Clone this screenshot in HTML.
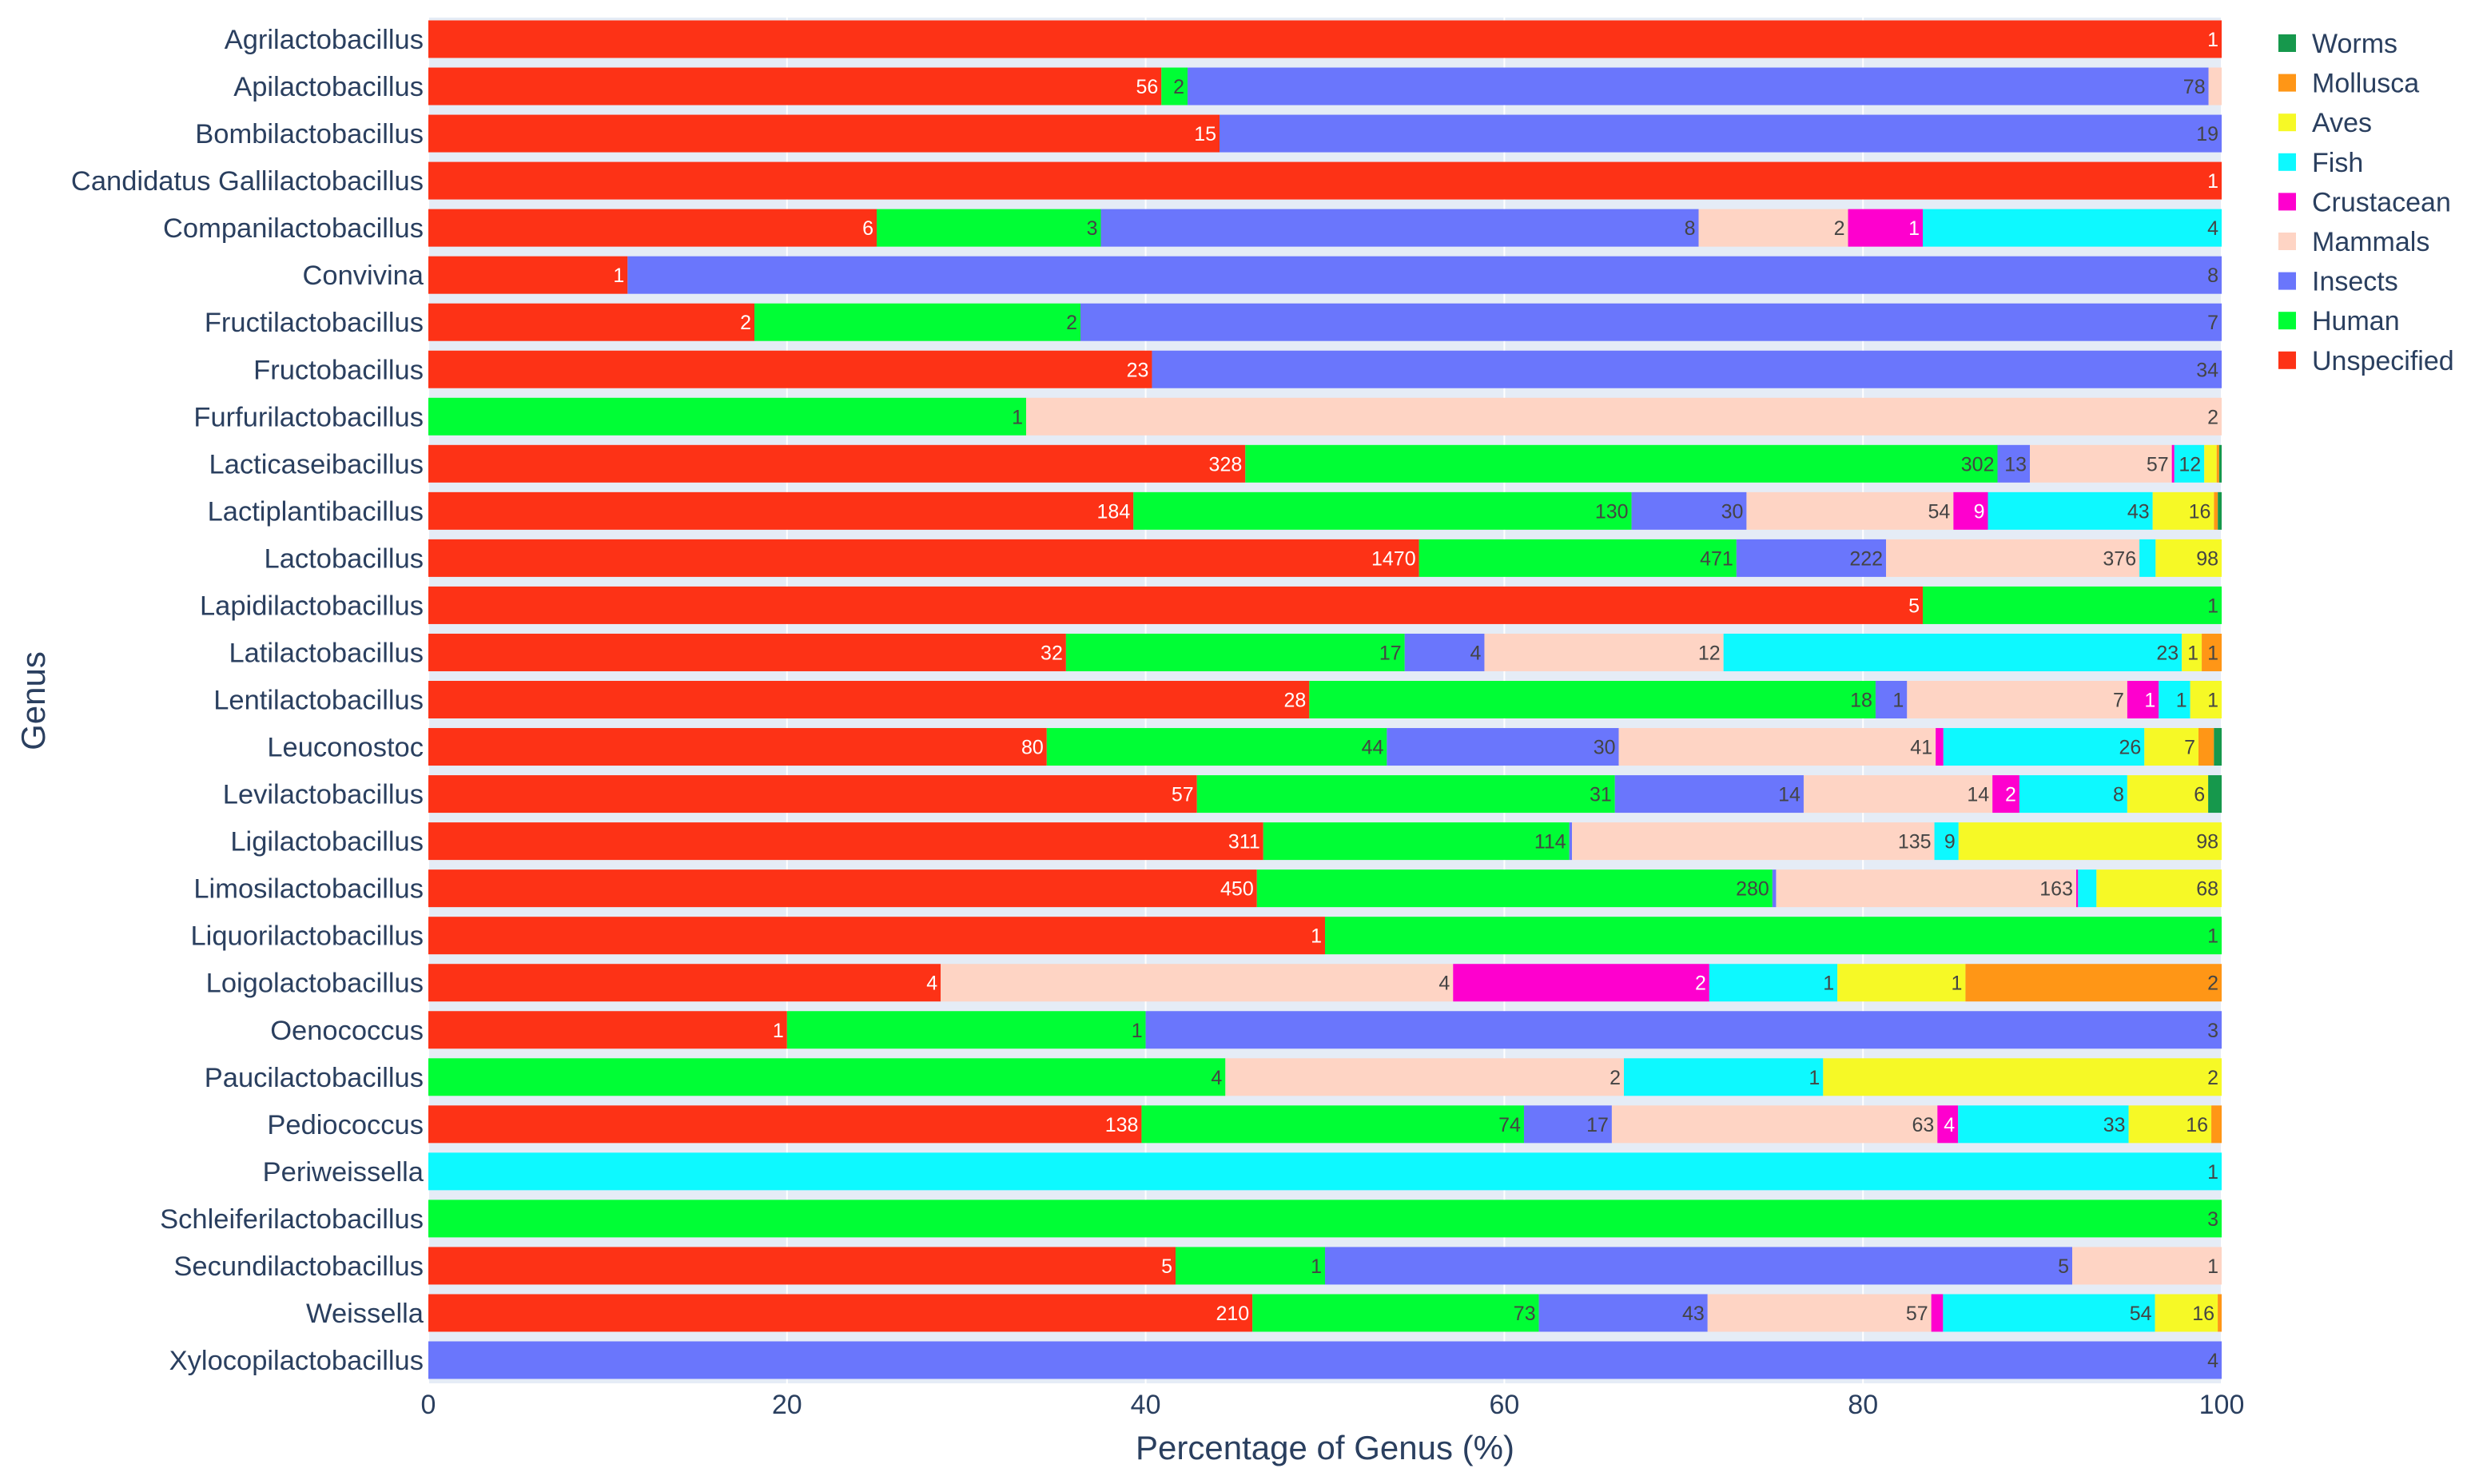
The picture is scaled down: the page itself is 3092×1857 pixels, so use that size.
<!DOCTYPE html>
<html><head><meta charset="utf-8"><style>
html,body{margin:0;padding:0;background:#fff;}
svg{display:block;font-family:"Liberation Sans",Arial,sans-serif;}
</style></head><body>
<svg id="chart" width="3092" height="1857" viewBox="0 0 3092 1857" xmlns="http://www.w3.org/2000/svg"></svg>
<script>
const genera = ["Agrilactobacillus","Apilactobacillus","Bombilactobacillus","Candidatus Gallilactobacillus","Companilactobacillus","Convivina","Fructilactobacillus","Fructobacillus","Furfurilactobacillus","Lacticaseibacillus","Lactiplantibacillus","Lactobacillus","Lapidilactobacillus","Latilactobacillus","Lentilactobacillus","Leuconostoc","Levilactobacillus","Ligilactobacillus","Limosilactobacillus","Liquorilactobacillus","Loigolactobacillus","Oenococcus","Paucilactobacillus","Pediococcus","Periweissella","Schleiferilactobacillus","Secundilactobacillus","Weissella","Xylocopilactobacillus"];
const seriesNames = ["Unspecified","Human","Insects","Mammals","Crustacean","Fish","Aves","Mollusca","Worms"];
const seriesColors = ["#FD3216","#00FE35","#6A76FC","#FED4C4","#FE00CE","#0DF9FF","#F6F926","#FF9616","#16984C"];
const unspecified = [1,56,15,1,6,1,2,23,0,328,184,1470,5,32,28,80,57,311,450,1,4,1,0,138,0,0,5,210,0];
const human      = [0,2,0,0,3,0,2,0,1,302,130,471,1,17,18,44,31,114,280,1,0,1,4,74,0,3,1,73,0];
const insects    = [0,78,19,0,8,8,7,34,0,13,30,222,0,4,1,30,14,1,2,0,0,3,0,17,0,0,5,43,4];
const mammals    = [0,1,0,0,2,0,0,0,2,57,54,376,0,12,7,41,14,135,163,0,4,0,2,63,0,0,1,57,0];
const crustacean = [0,0,0,0,1,0,0,0,0,1,9,0,0,0,1,1,2,0,1,0,2,0,0,4,0,0,0,3,0];
const fish       = [0,0,0,0,4,0,0,0,0,12,43,24,0,23,1,26,8,9,10,0,1,0,1,33,1,0,0,54,0];
const aves       = [0,0,0,0,0,0,0,0,0,5,16,98,0,1,1,7,6,98,68,0,1,0,2,16,0,0,0,16,0];
const mollusca   = [0,0,0,0,0,0,0,0,0,1,1,0,0,1,0,2,0,0,0,0,2,0,0,2,0,0,0,1,0];
const worms      = [0,0,0,0,0,0,0,0,0,1,1,0,0,0,0,1,1,0,0,0,0,0,0,0,0,0,0,0,0];
const xTicks = [0,20,40,60,80,100];
const series = [unspecified,human,insects,mammals,crustacean,fish,aves,mollusca,worms];

const NS="http://www.w3.org/2000/svg";
const svg=document.getElementById('chart');
const L=536,R=2780,T=22,B=1731;
const rowStart=49,rowStep=(1702-49)/28,barH=47;
function xs(p){return L+(R-L)*p/100;}
function ys(i){return rowStart+i*rowStep;}
function mk(tag,attrs,parent){const e=document.createElementNS(NS,tag);for(const k in attrs)e.setAttribute(k,attrs[k]);(parent||svg).appendChild(e);return e;}

const bg=mk('rect',{x:L,y:T,width:R-L,height:B-T,fill:'#E5ECF6'});


xTicks.forEach(t=>{
  const g=mk('line',{x1:xs(t),x2:xs(t),y1:T,y2:B,stroke:'#fff','stroke-width':2});
  
  
  const tl=mk('text',{x:xs(t),y:1769,'text-anchor':'middle','font-size':34,fill:'#2a3f5f'});
  tl.textContent=t;
  
  
});
genera.forEach((g,i)=>{
  const total=series.reduce((s,a)=>s+a[i],0);
  let cum=0;
  const cy=ys(i);
  const yl=mk('text',{x:530,y:cy+12,'text-anchor':'end','font-size':34.5,fill:'#2a3f5f'});
  yl.textContent=g;
  
  
  series.forEach((arr,s)=>{
    const v=arr[i]; if(!v) return;
    const x0=xs(cum/total*100); cum+=v; const x1=xs(cum/total*100);
    const r=mk('rect',{x:x0,y:cy-barH/2,width:x1-x0,height:barH,fill:seriesColors[s]});
    
    
    const w=x1-x0, label=String(v);
    if(w>=label.length*14+8){
      const tc=(s===0||s===4)?'#ffffff':'#444444';
      const t=mk('text',{x:x1-4,y:cy+9,'text-anchor':'end','font-size':25,fill:tc});
      t.textContent=label;
      
      
    }
  });
});
const xt=mk('text',{x:(L+R)/2,y:1826,'text-anchor':'middle','font-size':42,fill:'#2a3f5f'});
xt.textContent='Percentage of Genus (%)';


const yt=mk('text',{x:56,y:877,'text-anchor':'middle','font-size':42,fill:'#2a3f5f',transform:'rotate(-90 56 877)'});
yt.textContent='Genus';


const legendOrder=[8,7,6,5,4,3,2,1,0];
legendOrder.forEach((s,k)=>{
  const y=54+k*49.6;
  const sw=mk('rect',{x:2851,y:y-11,width:22,height:22,fill:seriesColors[s]});
  
  
  const t=mk('text',{x:2893,y:y+12,'font-size':34,fill:'#2a3f5f'});
  t.textContent=seriesNames[s];
  
  
});
</script>
</body></html>
